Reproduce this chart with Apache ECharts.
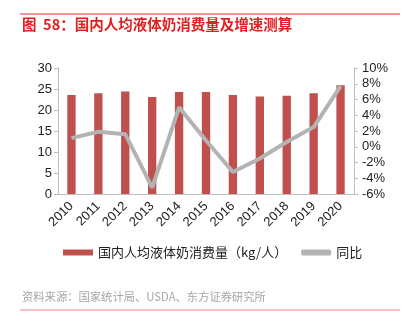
<!DOCTYPE html>
<html><head><meta charset="utf-8">
<script src="https://cdn.jsdelivr.net/npm/echarts@6/dist/echarts.min.js"></script>
<style>html,body{margin:0;padding:0;background:#fff}#c{width:412px;height:321px}</style>
</head><body><div id="c"></div>
<script>
var years = ['2010','2011','2012','2013','2014','2015','2016','2017','2018','2019','2020'];
var consumption = [23.6, 24.0, 24.4, 23.1, 24.3, 24.3, 23.6, 23.2, 23.4, 24.0, 25.9];
var yoy = [1.1, 1.9, 1.6, -5.2, 5.0, 0.8, -3.2, -1.5, 0.6, 2.5, 7.7];
var leftTicks = [0, 30, 5];
var rightTicks = [-6, 10, 2];
var titleText = '图  58：国内人均液体奶消费量及增速测算';
var sourceText = '资料来源：国家统计局、USDA、东方证券研究所';
var seriesNames = ['国内人均液体奶消费量（kg/人）', '同比'];

var font = 'Liberation Sans, Arial, "Noto Sans CJK SC", sans-serif';
var chart = echarts.init(document.getElementById('c'));
chart.setOption({
  animation: false,
  textStyle: {fontFamily: font},
  graphic: [
    {type: 'line', shape: {x1: 20, y1: 14, x2: 400, y2: 14}, style: {stroke: '#e03030', lineWidth: 1}},
    {type: 'text', left: 22, top: 17, style: {text: titleText, fill: '#e02020', font: 'bold 14.5px "Noto Sans CJK SC", sans-serif'}},
    {type: 'text', left: 22, top: 291, style: {text: sourceText, fill: '#a6a6a6', font: '11.3px "Noto Sans CJK SC", sans-serif'}},
    {type: 'line', shape: {x1: 20, y1: 310, x2: 400, y2: 310}, style: {stroke: '#f08080', lineWidth: 1}}
  ],
  legend: {
    bottom: 57, left: 58, itemGap: 14, itemWidth: 30, itemHeight: 6,
    textStyle: {fontSize: 13, color: '#222', fontFamily: '"Noto Sans CJK SC", sans-serif'},
    data: [{name: seriesNames[0], icon: 'rect'},
           {name: seriesNames[1], icon: 'roundRect', itemStyle: {color: '#b3b3b3'}}]
  },
  grid: {left: 58, right: 58, top: 68, bottom: 127},
  xAxis: {
    type: 'category', data: years,
    axisLine: {lineStyle: {color: '#bfbfbf'}},
    axisTick: {lineStyle: {color: '#bfbfbf'}, length: 4},
    axisLabel: {rotate: 45, color: '#222', fontSize: 13, margin: 10}
  },
  yAxis: [
    {type: 'value', min: leftTicks[0], max: leftTicks[1], interval: leftTicks[2],
     axisLine: {show: true, lineStyle: {color: '#bfbfbf'}},
     axisTick: {show: true, lineStyle: {color: '#bfbfbf'}, length: 4},
     axisLabel: {color: '#222', fontSize: 13, margin: 6},
     splitLine: {show: false}},
    {type: 'value', min: rightTicks[0], max: rightTicks[1], interval: rightTicks[2],
     axisLine: {show: true, lineStyle: {color: '#bfbfbf'}},
     axisTick: {show: true, lineStyle: {color: '#bfbfbf'}, length: 4},
     axisLabel: {color: '#222', fontSize: 13, margin: 8, formatter: '{value}%'},
     splitLine: {show: false}}
  ],
  series: [
    {name: seriesNames[0], type: 'bar', data: consumption, barWidth: '31%',
     itemStyle: {color: '#c0504d'}},
    {name: seriesNames[1], type: 'line', yAxisIndex: 1, data: yoy, symbol: 'none',
     lineStyle: {color: '#b3b3b3', width: 4}, itemStyle: {color: '#b3b3b3'}}
  ]
});
</script></body></html>
